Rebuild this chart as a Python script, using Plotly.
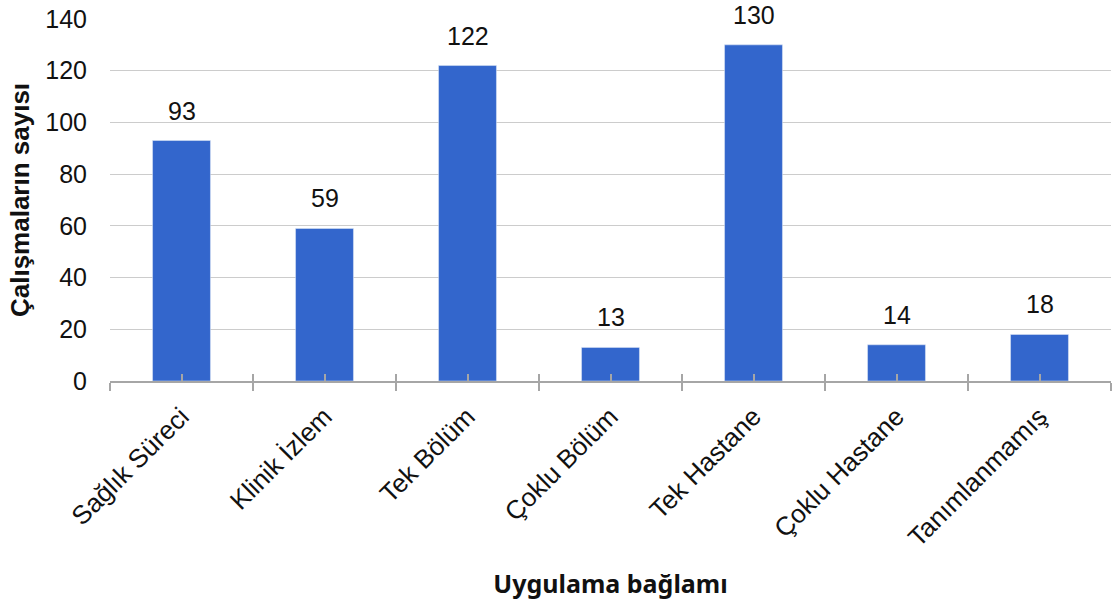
import plotly.graph_objects as go

categories = ["Sağlık Süreci", "Klinik İzlem", "Tek Bölüm", "Çoklu Bölüm",
              "Tek Hastane", "Çoklu Hastane", "Tanımlanmamış"]
values = [93, 59, 122, 13, 130, 14, 18]
y_ticks = [0, 20, 40, 60, 80, 100, 120, 140]

BAR = "#3366CC"
AX = "#A6A6A6"
FONT = "Liberation Sans, Arial, sans-serif"

fig = go.Figure()
fig.add_trace(go.Bar(x=categories, y=values, marker_color=BAR, width=0.405,
                     hoverinfo="x+y", showlegend=False))
# invisible helper trace for the overlay tick axis
n = len(categories)
fig.add_trace(go.Scatter(x=[-0.5, n - 0.5], y=[0, 0], xaxis="x2", mode="markers",
                         marker=dict(opacity=0), showlegend=False, hoverinfo="skip"))

for c, v in zip(categories, values):
    fig.add_annotation(x=c, y=v, text=str(v), showarrow=False, yanchor="bottom",
                       yshift=14, font=dict(family=FONT, size=25, color="#111111"))

fig.update_layout(
    width=1112, height=601,
    margin=dict(l=110, r=1, t=19, b=220, autoexpand=False),
    plot_bgcolor="white", paper_bgcolor="white",
    bargap=0.6,
    xaxis=dict(
        type="category", range=[-0.5, n - 0.5],
        tickangle=-45, tickfont=dict(family=FONT, size=26, color="#111111"),
        ticklabelstandoff=8,
        showline=True, linecolor=AX, linewidth=2,
        ticks="outside", tickson="boundaries", ticklen=8, tickcolor=AX, tickwidth=1.5,
        showgrid=False,
        title=dict(text="<b>Uygulama bağlamı</b>", standoff=24,
                   font=dict(family="Noto Sans, sans-serif", size=25, color="#111111")),
    ),
    xaxis2=dict(
        overlaying="x", range=[-0.5, n - 0.5], anchor="y",
        tickvals=[i * 0.5 - 0.5 for i in range(2 * n + 1)],
        ticks="inside", ticklen=7, tickcolor=AX, tickwidth=1.5,
        showticklabels=False, showgrid=False, showline=False, zeroline=False,
        side="bottom",
    ),
    yaxis=dict(
        range=[0, 140], tickvals=y_ticks,
        tickfont=dict(family=FONT, size=25, color="#111111"),
        ticklabelstandoff=22,
        showgrid=True, gridcolor="#CCCCCC", gridwidth=1,
        zeroline=False, showline=False, ticks="", ticklen=0,
        title=dict(text="<b>Çalışmaların sayısı</b>", standoff=8,
                   font=dict(family=FONT, size=26, color="#111111")),
    ),
)

fig.write_html("out.html", config={"displayModeBar": False},
               post_script="document.body.style.margin='0';")
